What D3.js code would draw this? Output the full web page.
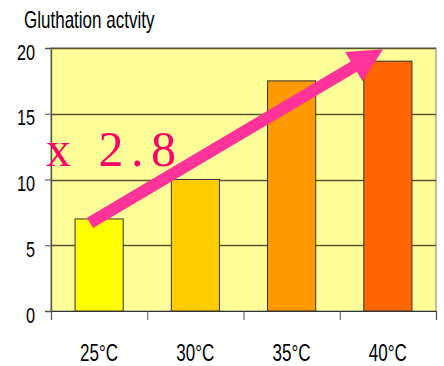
<!DOCTYPE html>
<html>
<head>
<meta charset="utf-8">
<script src="https://cdn.jsdelivr.net/npm/d3@7"></script>
<style>
  body { margin: 0; background: #fff; }
  svg text { font-family: "Liberation Sans", Arial, sans-serif; }
</style>
</head>
<body>
<svg id="chart"></svg>
<script>
const categories = ["25°C", "30°C", "35°C", "40°C"];
const values = [7, 10, 17.5, 19];
const barColors = ["#FFFF00", "#FFCC00", "#FF9900", "#FF6600"];
const yTicks = [0, 5, 10, 15, 20];
const yTitle = "Gluthation actvity";
const annotation = "x 2.8";
// arrow ends, in category units (0..4) and y values
const arrowFrom = [0.405, 6.7];
const arrowTo = [3.45, 19.9];

const width = 444, height = 366;
const margin = { top: 48, right: 8, bottom: 55, left: 51 };
const narrow = 0.74; // squeeze to look like Arial Narrow

const svg = d3.select("#chart")
  .attr("width", width)
  .attr("height", height);

const x = d3.scaleBand()
  .domain(categories)
  .range([margin.left, width - margin.right])
  .paddingInner(0.5)
  .paddingOuter(0.25);

const xPos = d3.scaleLinear()
  .domain([0, categories.length])
  .range([margin.left, width - margin.right]);

const y = d3.scaleLinear()
  .domain([0, 20])
  .range([height - margin.bottom, margin.top]);

// plot background
svg.append("rect")
  .attr("x", margin.left)
  .attr("y", margin.top)
  .attr("width", width - margin.left - margin.right)
  .attr("height", y(0) - margin.top)
  .attr("fill", "#FFFF99")
  .attr("stroke", "#808080")
  .attr("stroke-width", 1);

// gridlines
svg.append("g")
  .selectAll("line")
  .data(yTicks.filter(d => d > 0))
  .enter()
  .append("line")
  .attr("x1", margin.left)
  .attr("x2", width - margin.right)
  .attr("y1", d => Math.round(y(d)) + 0.5)
  .attr("y2", d => Math.round(y(d)) + 0.5)
  .attr("stroke", "#555533")
  .attr("stroke-width", 1.3);

// bars
svg.append("g")
  .selectAll("rect")
  .data(values)
  .enter()
  .append("rect")
  .attr("x", (d, i) => x(categories[i]))
  .attr("y", d => y(d))
  .attr("width", x.bandwidth())
  .attr("height", d => y(0) - y(d))
  .attr("fill", (d, i) => barColors[i])
  .attr("stroke", "#333")
  .attr("stroke-width", 1);

// y axis
const yAxis = svg.append("g")
  .attr("transform", `translate(${margin.left},0)`)
  .call(d3.axisLeft(y).tickValues(yTicks).tickSize(6).tickPadding(4));
yAxis.select(".domain").attr("stroke", "#555533").attr("stroke-width", 1.3);
yAxis.selectAll(".tick line").attr("stroke", "#555");
yAxis.selectAll("text")
  .attr("font-size", 22)
  .attr("fill", "#000")
  .attr("x", -16 / narrow)
  .attr("dy", "0.5em")
  .attr("transform", `scale(${narrow},1)`)
  .style("font-family", null);

// x axis: ticks on band boundaries
const xAxis = svg.append("g")
  .attr("transform", `translate(0,${y(0)})`)
  .call(d3.axisBottom(xPos).tickValues(d3.range(categories.length + 1)).tickSize(9).tickFormat(""));
xAxis.select(".domain").attr("stroke", "#333").attr("stroke-width", 1.2);
xAxis.selectAll(".tick line").attr("stroke", "#555");

svg.append("g")
  .selectAll("text")
  .data(categories)
  .enter()
  .append("text")
  .attr("transform", d => `translate(${x(d) + x.bandwidth() / 2},${y(0) + 50}) scale(${narrow},1)`)
  .attr("text-anchor", "middle")
  .attr("font-size", 23)
  .text(d => d);

// axis title
svg.append("text")
  .attr("transform", `translate(24,28) scale(${narrow},1)`)
  .attr("font-size", 23)
  .text(yTitle);

// arrow annotation
const x0 = xPos(arrowFrom[0]), y0 = y(arrowFrom[1]);
const x1 = xPos(arrowTo[0]), y1 = y(arrowTo[1]);
const len = Math.hypot(x1 - x0, y1 - y0);
const ux = (x1 - x0) / len, uy = (y1 - y0) / len;
const nx = -uy, ny = ux;
const shaft = 6, head = 17, headLen = 34;
const bx = x1 - ux * headLen, by = y1 - uy * headLen;
const pts = [
  [x0 + nx * shaft, y0 + ny * shaft],
  [bx + nx * shaft, by + ny * shaft],
  [bx + nx * head, by + ny * head],
  [x1, y1],
  [bx - nx * head, by - ny * head],
  [bx - nx * shaft, by - ny * shaft],
  [x0 - nx * shaft, y0 - ny * shaft]
];
svg.append("path")
  .attr("d", d3.line()(pts) + "Z")
  .attr("fill", "#FF3399");

svg.append("text")
  .attr("x", 46)
  .attr("y", 166)
  .attr("font-size", 50)
  .attr("textLength", 130)
  .attr("lengthAdjust", "spacing")
  .attr("fill", "#FF0066")
  .style("font-family", "'Liberation Serif', 'DejaVu Serif', serif")
  .text(annotation);
</script>
</body>
</html>
